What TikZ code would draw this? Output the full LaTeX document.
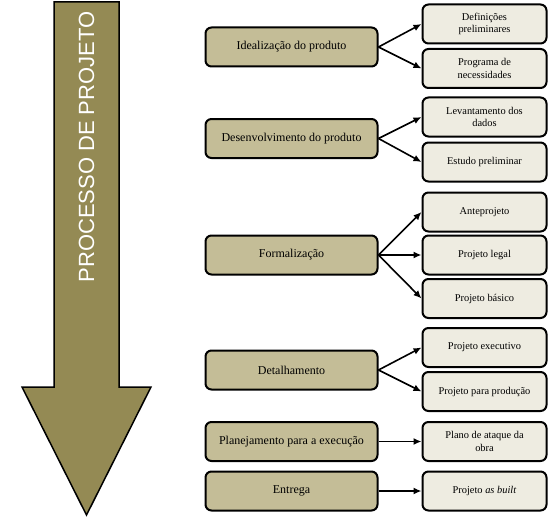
\documentclass[tikz,border=0pt]{standalone}
\usepackage{fontspec}
\setmainfont{Liberation Serif}
\newfontfamily\arialfont{Liberation Sans}
\usetikzlibrary{arrows.meta}
\definecolor{oliva}{HTML}{948A54}
\definecolor{caqui}{HTML}{C4BD97}
\definecolor{bege}{HTML}{EEECE1}

\begin{document}
\begin{tikzpicture}[x=1pt,y=1pt,
  etapa/.style={draw, rounded corners=6pt, line width=2pt, fill=caqui,
    minimum width=172pt, minimum height=39pt, inner sep=0pt,
    font=\fontsize{12}{14}\selectfont},
  produto/.style={draw, rounded corners=6pt, line width=2pt, fill=bege,
    minimum width=124pt, minimum height=39pt, inner sep=0pt, align=center,
    font=\fontsize{10.4}{12.5}\selectfont},
  seta/.style={draw, line width=1.6pt, -{Latex[length=8pt,width=7pt]}}]
\useasboundingbox (0,0) rectangle (556,-524);
% seta grande
\path[draw, line width=1.5pt, fill=oliva] (54,-2) -- (119,-2) -- (119,-387) -- (151,-387)
  -- (86.5,-515) -- (22,-387) -- (54,-387) -- cycle;
\node[rotate=90, text=white, font=\arialfont\fontsize{22}{22}\selectfont] (titulo) at (86.5,-147) {PROCESSO DE PROJETO};
% etapas
\node[etapa] (ideal) at (291.5,-47) {Idealização do produto};
\node[etapa] (desenv) at (291.5,-138.5) {Desenvolvimento do produto};
\node[etapa] (formal) at (291.5,-255) {Formalização};
\node[etapa] (detalh) at (291.5,-370) {Detalhamento};
\node[etapa] (planej) at (291.5,-441.5) {Planejamento para a execução};
\node[etapa] (entrega) at (291.5,-491) {Entrega};
% produtos
\node[produto] (defin) at (484.5,-24) {Definições\\preliminares};
\node[produto] (progr) at (484.5,-68.5) {Programa de\\necessidades};
\node[produto] (levant) at (484.5,-117) {Levantamento dos\\dados};
\node[produto] (estudo) at (484.5,-162) {Estudo preliminar};
\node[produto] (antep) at (484.5,-212) {Anteprojeto};
\node[produto] (legal) at (484.5,-255) {Projeto legal};
\node[produto] (basico) at (484.5,-298.5) {Projeto básico};
\node[produto] (execut) at (484.5,-347.5) {Projeto executivo};
\node[produto] (producao) at (484.5,-391.5) {Projeto para produção};
\node[produto] (plano) at (484.5,-441.5) {Plano de ataque da\\obra};
\node[produto] (asbuilt) at (484.5,-491) {Projeto \textit{as built}};
% ligacoes
\path[seta] (ideal.east) -- (defin.west);
\path[seta] (ideal.east) -- (progr.west);
\path[seta] (desenv.east) -- (levant.west);
\path[seta] (desenv.east) -- (estudo.west);
\path[seta] (formal.east) -- (antep.west);
\path[seta] (formal.east) -- (legal.west);
\path[seta] (formal.east) -- (basico.west);
\path[seta] (detalh.east) -- (execut.west);
\path[seta] (detalh.east) -- (producao.west);
\path[seta] (planej.east) -- (plano.west);
\path[seta] (entrega.east) -- (asbuilt.west);
\end{tikzpicture}
\end{document}
